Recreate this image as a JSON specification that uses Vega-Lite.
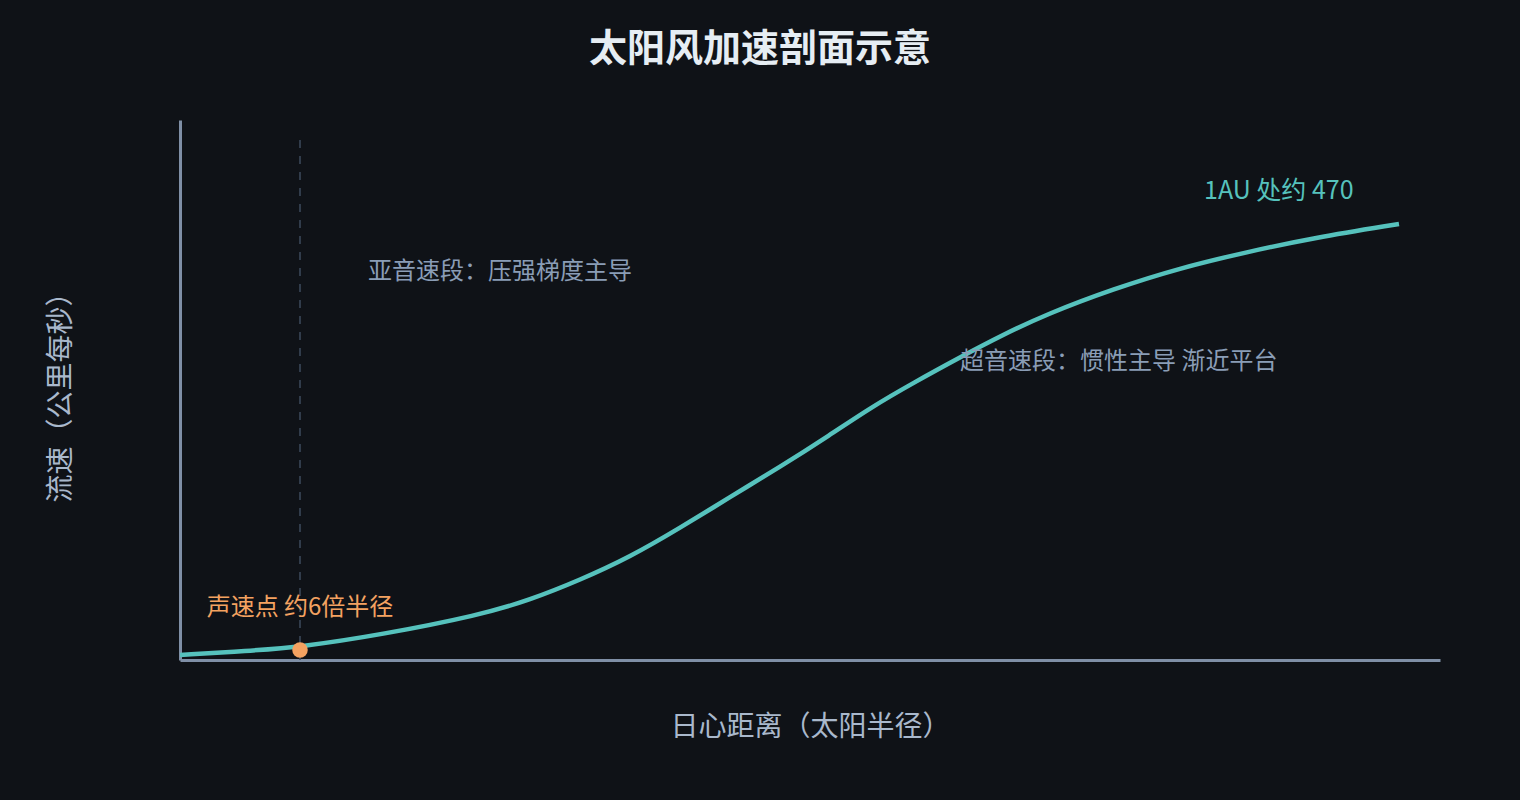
{
  "$schema": "https://vega.github.io/schema/vega-lite/v6.json",
  "width": 1260,
  "height": 540,
  "autosize": {"type": "none"},
  "padding": {"left": 180, "top": 120, "right": 80, "bottom": 140},
  "background": "#0f1217",
  "config": {
    "view": {"stroke": null},
    "font": "Noto Sans CJK SC"
  },
  "title": {
    "text": "太阳风加速剖面示意",
    "fontSize": 38,
    "fontWeight": "bold",
    "color": "#e6edf3",
    "anchor": "middle",
    "dx": -50,
    "offset": 51
  },
  "datasets": {
    "curve": [
      {"r": 0, "v": 5.4},
      {"r": 6.7, "v": 9.7},
      {"r": 12, "v": 14.0},
      {"r": 20, "v": 27.0},
      {"r": 30, "v": 48.5},
      {"r": 35, "v": 64.7},
      {"r": 40, "v": 86.2},
      {"r": 45, "v": 111.0},
      {"r": 50, "v": 142.3},
      {"r": 55, "v": 175.7},
      {"r": 60, "v": 208.1},
      {"r": 65, "v": 242.6},
      {"r": 69, "v": 271.7},
      {"r": 73.3, "v": 298.6},
      {"r": 78.3, "v": 328.0},
      {"r": 82, "v": 349.0},
      {"r": 86.7, "v": 373.0},
      {"r": 93.3, "v": 399.9},
      {"r": 100, "v": 422.6},
      {"r": 106.7, "v": 439.8},
      {"r": 113.3, "v": 454.9},
      {"r": 121.9, "v": 470}
    ],
    "sonic": [{"r": 12, "v": 10.8, "vbot": 0, "vtop": 560.6}],
    "notes": [
      {"r": 18.8, "v": 418.3, "label": "亚音速段：压强梯度主导"},
      {"r": 78, "v": 321.2, "label": "超音速段：惯性主导 渐近平台"}
    ],
    "au": [{"r": 102.4, "v": 505.6, "label": "1AU 处约 470"}],
    "sonicLabel": [{"r": 12, "v": 56.1, "label": "声速点 约6倍半径"}]
  },
  "encoding": {
    "x": {
      "field": "r", "type": "quantitative",
      "scale": {"domain": [0, 126], "nice": false, "zero": false},
      "axis": {
        "title": "日心距离（太阳半径）",
        "titleFontSize": 28, "titleFontWeight": "normal", "titleColor": "#a9b8cc",
        "titlePadding": 53,
        "labels": false, "ticks": false, "grid": false,
        "domainColor": "#7f8fa6", "domainWidth": 3
      }
    },
    "y": {
      "field": "v", "type": "quantitative",
      "scale": {"domain": [0, 582.1], "nice": false, "zero": false},
      "axis": {
        "title": "流速（公里每秒）",
        "titleFontSize": 28, "titleFontWeight": "normal", "titleColor": "#a9b8cc",
        "titlePadding": 105,
        "labels": false, "ticks": false, "grid": false,
        "domainColor": "#7f8fa6", "domainWidth": 3
      }
    }
  },
  "layer": [
    {
      "data": {"name": "sonic"},
      "mark": {"type": "rule", "stroke": "#3e4b5d", "strokeWidth": 1.5, "strokeDash": [8, 8]},
      "encoding": {
        "y": {"field": "vbot", "type": "quantitative"},
        "y2": {"field": "vtop"}
      }
    },
    {
      "data": {"name": "curve"},
      "mark": {"type": "line", "stroke": "#56c2bd", "strokeWidth": 4.5, "interpolate": "basis"}
    },
    {
      "data": {"name": "sonic"},
      "mark": {"type": "point", "filled": true, "fill": "#f4a261", "opacity": 1, "size": 240, "shape": "circle"}
    },
    {
      "data": {"name": "notes"},
      "mark": {"type": "text", "align": "left", "baseline": "middle", "fontSize": 24, "fill": "#8a9db6"},
      "encoding": {"text": {"field": "label"}}
    },
    {
      "data": {"name": "au"},
      "mark": {"type": "text", "align": "left", "baseline": "middle", "fontSize": 25, "fill": "#56c2bd"},
      "encoding": {"text": {"field": "label"}}
    },
    {
      "data": {"name": "sonicLabel"},
      "mark": {"type": "text", "align": "center", "baseline": "middle", "fontSize": 24, "fill": "#f4a261"},
      "encoding": {"text": {"field": "label"}}
    }
  ]
}
